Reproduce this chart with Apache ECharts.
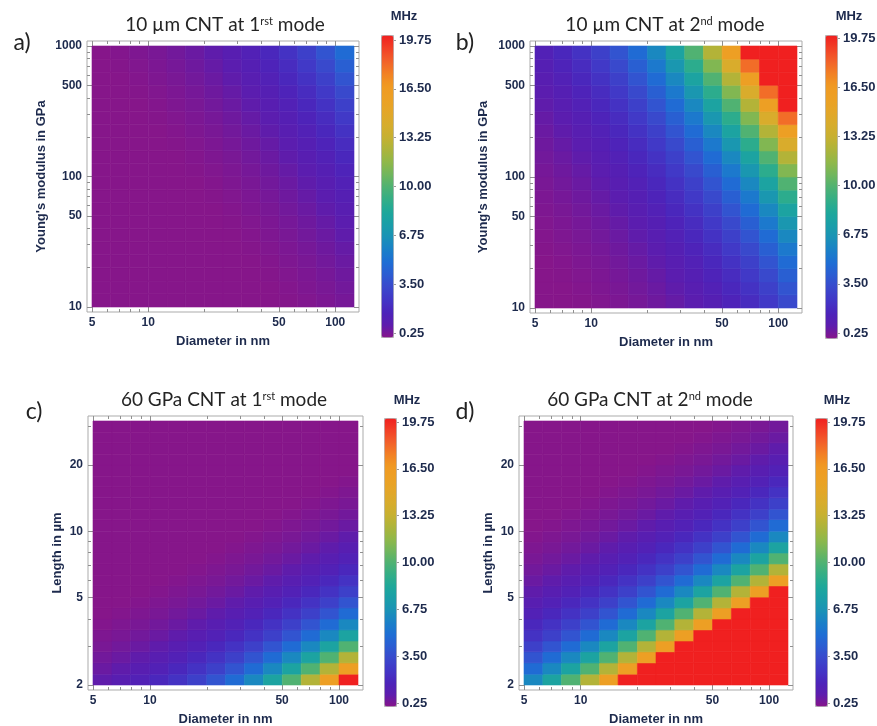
<!DOCTYPE html>
<html>
<head>
<meta charset="utf-8">
<title>CNT resonance frequency maps</title>
<script src="https://cdn.jsdelivr.net/npm/echarts@6.0.0/dist/echarts.min.js"></script>
<style>
  html, body { margin: 0; padding: 0; background: #fff; }
  #chart { width: 877px; height: 726px; }
</style>
</head>
<body>
<div id="chart"></div>
<script>
// cell edges
var diameterEdges = [5, 6.3, 7.9, 10, 12.6, 15.8, 20, 25.1, 31.6, 39.8, 50.1, 63.1, 79.4, 100, 126]
var modulusEdges = [10, 12.6, 15.8, 20, 25.1, 31.6, 39.8, 50.1, 63.1, 79.4, 100, 126, 158, 200, 251, 316, 398, 501, 631, 794, 1000]
var lengthEdges = [2, 2.24, 2.52, 2.83, 3.17, 3.56, 3.99, 4.48, 5.02, 5.64, 6.32, 7.1, 7.96, 8.93, 10.0, 11.3, 12.6, 14.2, 15.9, 17.8, 20.0, 22.4, 25.2, 28.2, 31.7]

// tick labels
var diameterTicks = [5, 10, 50, 100]
var diameterMinor = [6, 7, 8, 9, 20, 30, 40, 60, 70, 80, 90]
var modulusTicks = [10, 50, 100, 500, 1000]
var modulusMinor = [20, 30, 40, 60, 70, 80, 90, 200, 300, 400, 600, 700, 800, 900]
var lengthTicks = [2, 5, 10, 20]
var lengthMinor = [3, 4, 6, 7, 8, 9, 30]
var colorTicks = [0.25, 3.5, 6.75, 10, 13.25, 16.5, 19.75]

// frequency in MHz, rows from the lowest y value up, columns by diameter
var freq10umMode1 = [
  [0.028, 0.035, 0.045, 0.056, 0.071, 0.089, 0.112, 0.141, 0.178, 0.224, 0.282, 0.355, 0.447, 0.562],
  [0.032, 0.040, 0.050, 0.063, 0.079, 0.100, 0.126, 0.158, 0.200, 0.251, 0.316, 0.398, 0.501, 0.631],
  [0.035, 0.045, 0.056, 0.071, 0.089, 0.112, 0.141, 0.178, 0.224, 0.282, 0.355, 0.447, 0.562, 0.708],
  [0.040, 0.050, 0.063, 0.079, 0.100, 0.126, 0.158, 0.200, 0.251, 0.316, 0.398, 0.501, 0.631, 0.794],
  [0.045, 0.056, 0.071, 0.089, 0.112, 0.141, 0.178, 0.224, 0.282, 0.355, 0.447, 0.562, 0.708, 0.891],
  [0.050, 0.063, 0.079, 0.100, 0.126, 0.158, 0.200, 0.251, 0.316, 0.398, 0.501, 0.631, 0.794, 1.00],
  [0.056, 0.071, 0.089, 0.112, 0.141, 0.178, 0.224, 0.282, 0.355, 0.447, 0.562, 0.708, 0.891, 1.12],
  [0.063, 0.079, 0.100, 0.126, 0.158, 0.200, 0.251, 0.316, 0.398, 0.501, 0.631, 0.794, 1.00, 1.26],
  [0.071, 0.089, 0.112, 0.141, 0.178, 0.224, 0.282, 0.355, 0.447, 0.562, 0.708, 0.891, 1.12, 1.41],
  [0.079, 0.100, 0.126, 0.158, 0.200, 0.251, 0.316, 0.398, 0.501, 0.631, 0.794, 1.00, 1.26, 1.58],
  [0.089, 0.112, 0.141, 0.178, 0.224, 0.282, 0.355, 0.447, 0.562, 0.708, 0.891, 1.12, 1.41, 1.78],
  [0.100, 0.126, 0.158, 0.200, 0.251, 0.316, 0.398, 0.501, 0.631, 0.794, 1.00, 1.26, 1.58, 2.00],
  [0.112, 0.141, 0.178, 0.224, 0.282, 0.355, 0.447, 0.562, 0.708, 0.891, 1.12, 1.41, 1.78, 2.24],
  [0.126, 0.158, 0.200, 0.251, 0.316, 0.398, 0.501, 0.631, 0.794, 1.00, 1.26, 1.58, 2.00, 2.51],
  [0.141, 0.178, 0.224, 0.282, 0.355, 0.447, 0.562, 0.708, 0.891, 1.12, 1.41, 1.78, 2.24, 2.82],
  [0.158, 0.200, 0.251, 0.316, 0.398, 0.501, 0.631, 0.794, 1.00, 1.26, 1.58, 2.00, 2.51, 3.16],
  [0.178, 0.224, 0.282, 0.355, 0.447, 0.562, 0.708, 0.891, 1.12, 1.41, 1.78, 2.24, 2.82, 3.55],
  [0.200, 0.251, 0.316, 0.398, 0.501, 0.631, 0.794, 1.00, 1.26, 1.58, 2.00, 2.51, 3.16, 3.98],
  [0.224, 0.282, 0.355, 0.447, 0.562, 0.708, 0.891, 1.12, 1.41, 1.78, 2.24, 2.82, 3.55, 4.47],
  [0.251, 0.316, 0.398, 0.501, 0.631, 0.794, 1.00, 1.26, 1.58, 2.00, 2.51, 3.16, 3.98, 5.01]
]
var freq10umMode2 = [
  [0.178, 0.224, 0.282, 0.355, 0.447, 0.562, 0.708, 0.891, 1.12, 1.41, 1.78, 2.24, 2.82, 3.55],
  [0.200, 0.251, 0.316, 0.398, 0.501, 0.631, 0.794, 1.00, 1.26, 1.58, 2.00, 2.51, 3.16, 3.98],
  [0.224, 0.282, 0.355, 0.447, 0.562, 0.708, 0.891, 1.12, 1.41, 1.78, 2.24, 2.82, 3.55, 4.47],
  [0.251, 0.316, 0.398, 0.501, 0.631, 0.794, 1.00, 1.26, 1.58, 2.00, 2.51, 3.16, 3.98, 5.01],
  [0.282, 0.355, 0.447, 0.562, 0.708, 0.891, 1.12, 1.41, 1.78, 2.24, 2.82, 3.55, 4.47, 5.62],
  [0.316, 0.398, 0.501, 0.631, 0.794, 1.00, 1.26, 1.58, 2.00, 2.51, 3.16, 3.98, 5.01, 6.31],
  [0.355, 0.447, 0.562, 0.708, 0.891, 1.12, 1.41, 1.78, 2.24, 2.82, 3.55, 4.47, 5.62, 7.08],
  [0.398, 0.501, 0.631, 0.794, 1.00, 1.26, 1.58, 2.00, 2.51, 3.16, 3.98, 5.01, 6.31, 7.94],
  [0.447, 0.562, 0.708, 0.891, 1.12, 1.41, 1.78, 2.24, 2.82, 3.55, 4.47, 5.62, 7.08, 8.91],
  [0.501, 0.631, 0.794, 1.00, 1.26, 1.58, 2.00, 2.51, 3.16, 3.98, 5.01, 6.31, 7.94, 10.0],
  [0.562, 0.708, 0.891, 1.12, 1.41, 1.78, 2.24, 2.82, 3.55, 4.47, 5.62, 7.08, 8.91, 11.2],
  [0.631, 0.794, 1.00, 1.26, 1.58, 2.00, 2.51, 3.16, 3.98, 5.01, 6.31, 7.94, 10.0, 12.6],
  [0.708, 0.891, 1.12, 1.41, 1.78, 2.24, 2.82, 3.55, 4.47, 5.62, 7.08, 8.91, 11.2, 14.1],
  [0.794, 1.00, 1.26, 1.58, 2.00, 2.51, 3.16, 3.98, 5.01, 6.31, 7.94, 10.0, 12.6, 15.8],
  [0.891, 1.12, 1.41, 1.78, 2.24, 2.82, 3.55, 4.47, 5.62, 7.08, 8.91, 11.2, 14.1, 17.8],
  [1.00, 1.26, 1.58, 2.00, 2.51, 3.16, 3.98, 5.01, 6.31, 7.94, 10.0, 12.6, 15.8, 20.0],
  [1.12, 1.41, 1.78, 2.24, 2.82, 3.55, 4.47, 5.62, 7.08, 8.91, 11.2, 14.1, 17.8, 22.4],
  [1.26, 1.58, 2.00, 2.51, 3.16, 3.98, 5.01, 6.31, 7.94, 10.0, 12.6, 15.8, 20.0, 25.1],
  [1.41, 1.78, 2.24, 2.82, 3.55, 4.47, 5.62, 7.08, 8.91, 11.2, 14.1, 17.8, 22.4, 28.2],
  [1.58, 2.00, 2.51, 3.16, 3.98, 5.01, 6.31, 7.94, 10.0, 12.6, 15.8, 20.0, 25.1, 31.6]
]
var freq60GPaMode1 = [
  [1.00, 1.26, 1.58, 2.00, 2.51, 3.16, 3.98, 5.01, 6.31, 7.94, 10.0, 12.6, 15.8, 20.0],
  [0.794, 1.00, 1.26, 1.58, 2.00, 2.51, 3.16, 3.98, 5.01, 6.31, 7.94, 10.0, 12.6, 15.8],
  [0.631, 0.794, 1.00, 1.26, 1.58, 2.00, 2.51, 3.16, 3.98, 5.01, 6.31, 7.94, 10.0, 12.6],
  [0.501, 0.631, 0.794, 1.00, 1.26, 1.58, 2.00, 2.51, 3.16, 3.98, 5.01, 6.31, 7.94, 10.0],
  [0.398, 0.501, 0.631, 0.794, 1.00, 1.26, 1.58, 2.00, 2.51, 3.16, 3.98, 5.01, 6.31, 7.94],
  [0.316, 0.398, 0.501, 0.631, 0.794, 1.00, 1.26, 1.58, 2.00, 2.51, 3.16, 3.98, 5.01, 6.31],
  [0.251, 0.316, 0.398, 0.501, 0.631, 0.794, 1.00, 1.26, 1.58, 2.00, 2.51, 3.16, 3.98, 5.01],
  [0.200, 0.251, 0.316, 0.398, 0.501, 0.631, 0.794, 1.00, 1.26, 1.58, 2.00, 2.51, 3.16, 3.98],
  [0.158, 0.200, 0.251, 0.316, 0.398, 0.501, 0.631, 0.794, 1.00, 1.26, 1.58, 2.00, 2.51, 3.16],
  [0.126, 0.158, 0.200, 0.251, 0.316, 0.398, 0.501, 0.631, 0.794, 1.00, 1.26, 1.58, 2.00, 2.51],
  [0.100, 0.126, 0.158, 0.200, 0.251, 0.316, 0.398, 0.501, 0.631, 0.794, 1.00, 1.26, 1.58, 2.00],
  [0.079, 0.100, 0.126, 0.158, 0.200, 0.251, 0.316, 0.398, 0.501, 0.631, 0.794, 1.00, 1.26, 1.58],
  [0.063, 0.079, 0.100, 0.126, 0.158, 0.200, 0.251, 0.316, 0.398, 0.501, 0.631, 0.794, 1.00, 1.26],
  [0.050, 0.063, 0.079, 0.100, 0.126, 0.158, 0.200, 0.251, 0.316, 0.398, 0.501, 0.631, 0.794, 1.00],
  [0.040, 0.050, 0.063, 0.079, 0.100, 0.126, 0.158, 0.200, 0.251, 0.316, 0.398, 0.501, 0.631, 0.794],
  [0.032, 0.040, 0.050, 0.063, 0.079, 0.100, 0.126, 0.158, 0.200, 0.251, 0.316, 0.398, 0.501, 0.631],
  [0.025, 0.032, 0.040, 0.050, 0.063, 0.079, 0.100, 0.126, 0.158, 0.200, 0.251, 0.316, 0.398, 0.501],
  [0.020, 0.025, 0.032, 0.040, 0.050, 0.063, 0.079, 0.100, 0.126, 0.158, 0.200, 0.251, 0.316, 0.398],
  [0.016, 0.020, 0.025, 0.032, 0.040, 0.050, 0.063, 0.079, 0.100, 0.126, 0.158, 0.200, 0.251, 0.316],
  [0.013, 0.016, 0.020, 0.025, 0.032, 0.040, 0.050, 0.063, 0.079, 0.100, 0.126, 0.158, 0.200, 0.251],
  [0.010, 0.013, 0.016, 0.020, 0.025, 0.032, 0.040, 0.050, 0.063, 0.079, 0.100, 0.126, 0.158, 0.200],
  [0.008, 0.010, 0.013, 0.016, 0.020, 0.025, 0.032, 0.040, 0.050, 0.063, 0.079, 0.100, 0.126, 0.158],
  [0.006, 0.008, 0.010, 0.013, 0.016, 0.020, 0.025, 0.032, 0.040, 0.050, 0.063, 0.079, 0.100, 0.126],
  [0.005, 0.006, 0.008, 0.010, 0.013, 0.016, 0.020, 0.025, 0.032, 0.040, 0.050, 0.063, 0.079, 0.100]
]
var freq60GPaMode2 = [
  [6.31, 7.94, 10.0, 12.6, 15.8, 20.0, 25.1, 31.6, 39.8, 50.1, 63.1, 79.4, 100, 126],
  [5.01, 6.31, 7.94, 10.0, 12.6, 15.8, 20.0, 25.1, 31.6, 39.8, 50.1, 63.1, 79.4, 100],
  [3.98, 5.01, 6.31, 7.94, 10.0, 12.6, 15.8, 20.0, 25.1, 31.6, 39.8, 50.1, 63.1, 79.4],
  [3.16, 3.98, 5.01, 6.31, 7.94, 10.0, 12.6, 15.8, 20.0, 25.1, 31.6, 39.8, 50.1, 63.1],
  [2.51, 3.16, 3.98, 5.01, 6.31, 7.94, 10.0, 12.6, 15.8, 20.0, 25.1, 31.6, 39.8, 50.1],
  [2.00, 2.51, 3.16, 3.98, 5.01, 6.31, 7.94, 10.0, 12.6, 15.8, 20.0, 25.1, 31.6, 39.8],
  [1.58, 2.00, 2.51, 3.16, 3.98, 5.01, 6.31, 7.94, 10.0, 12.6, 15.8, 20.0, 25.1, 31.6],
  [1.26, 1.58, 2.00, 2.51, 3.16, 3.98, 5.01, 6.31, 7.94, 10.0, 12.6, 15.8, 20.0, 25.1],
  [1.00, 1.26, 1.58, 2.00, 2.51, 3.16, 3.98, 5.01, 6.31, 7.94, 10.0, 12.6, 15.8, 20.0],
  [0.794, 1.00, 1.26, 1.58, 2.00, 2.51, 3.16, 3.98, 5.01, 6.31, 7.94, 10.0, 12.6, 15.8],
  [0.631, 0.794, 1.00, 1.26, 1.58, 2.00, 2.51, 3.16, 3.98, 5.01, 6.31, 7.94, 10.0, 12.6],
  [0.501, 0.631, 0.794, 1.00, 1.26, 1.58, 2.00, 2.51, 3.16, 3.98, 5.01, 6.31, 7.94, 10.0],
  [0.398, 0.501, 0.631, 0.794, 1.00, 1.26, 1.58, 2.00, 2.51, 3.16, 3.98, 5.01, 6.31, 7.94],
  [0.316, 0.398, 0.501, 0.631, 0.794, 1.00, 1.26, 1.58, 2.00, 2.51, 3.16, 3.98, 5.01, 6.31],
  [0.251, 0.316, 0.398, 0.501, 0.631, 0.794, 1.00, 1.26, 1.58, 2.00, 2.51, 3.16, 3.98, 5.01],
  [0.200, 0.251, 0.316, 0.398, 0.501, 0.631, 0.794, 1.00, 1.26, 1.58, 2.00, 2.51, 3.16, 3.98],
  [0.158, 0.200, 0.251, 0.316, 0.398, 0.501, 0.631, 0.794, 1.00, 1.26, 1.58, 2.00, 2.51, 3.16],
  [0.126, 0.158, 0.200, 0.251, 0.316, 0.398, 0.501, 0.631, 0.794, 1.00, 1.26, 1.58, 2.00, 2.51],
  [0.100, 0.126, 0.158, 0.200, 0.251, 0.316, 0.398, 0.501, 0.631, 0.794, 1.00, 1.26, 1.58, 2.00],
  [0.079, 0.100, 0.126, 0.158, 0.200, 0.251, 0.316, 0.398, 0.501, 0.631, 0.794, 1.00, 1.26, 1.58],
  [0.063, 0.079, 0.100, 0.126, 0.158, 0.200, 0.251, 0.316, 0.398, 0.501, 0.631, 0.794, 1.00, 1.26],
  [0.050, 0.063, 0.079, 0.100, 0.126, 0.158, 0.200, 0.251, 0.316, 0.398, 0.501, 0.631, 0.794, 1.00],
  [0.040, 0.050, 0.063, 0.079, 0.100, 0.126, 0.158, 0.200, 0.251, 0.316, 0.398, 0.501, 0.631, 0.794],
  [0.032, 0.040, 0.050, 0.063, 0.079, 0.100, 0.126, 0.158, 0.200, 0.251, 0.316, 0.398, 0.501, 0.631]
]

// colour bar stops, evenly spaced from 0.25 to 19.75
var rainbow = ['#86168a', '#5c1cae', '#4c24ba', '#4236c6', '#3a48cc', '#2c5cd2', '#1e6ed4', '#1a80c8',
  '#1a92b6', '#1a9ea8', '#1ea89a', '#34ae86', '#50b272', '#72b65c', '#92b848', '#aeb43a', '#c8b030',
  '#d8ac2c', '#e4a628', '#eca024', '#f09a22', '#f28024', '#f2602a', '#f24026', '#f02020']
var ink = '#1d2a4d'
var labelFont = 'Liberation Sans'

var panels = [
  { frame: [87, 41, 272, 271], yEdges: modulusEdges, yTicks: modulusTicks, yMinor: modulusMinor,
    yName: "Young's modulus in GPa", yGap: 39, values: freq10umMode1,
    bar: [381, 35, 12, 302], barAxis: [40, 293], mhz: [404, 16],
    title: ['10 µm CNT at 1{sup|rst} mode', 225, 25], letter: ['a)', 22, 43] },
  { frame: [530, 41, 272, 272], yEdges: modulusEdges, yTicks: modulusTicks, yMinor: modulusMinor,
    yName: "Young's modulus in GPa", yGap: 40, values: freq10umMode2,
    bar: [825, 35, 12, 303], barAxis: [38, 295], mhz: [849, 16],
    title: ['10 µm CNT at 2{sup|nd} mode', 665, 25], letter: ['b)', 465, 43] },
  { frame: [88, 416, 275, 274], yEdges: lengthEdges, yTicks: lengthTicks, yMinor: lengthMinor,
    yName: 'Length in µm', yGap: 24, values: freq60GPaMode1,
    bar: [384, 418, 12, 288], barAxis: [422, 281], mhz: [407, 400],
    title: ['60 GPa CNT at 1{sup|rst} mode', 224, 400], letter: ['c)', 34, 412] },
  { frame: [519, 416, 274, 274], yEdges: lengthEdges, yTicks: lengthTicks, yMinor: lengthMinor,
    yName: 'Length in µm', yGap: 24, values: freq60GPaMode2,
    bar: [815, 418, 12, 288], barAxis: [422, 281], mhz: [837, 400],
    title: ['60 GPa CNT at 2{sup|nd} mode', 650, 400], letter: ['d)', 465, 412] }
]

// log10 extent of the edges, widened by the 5px white margin inside the frame
function extent(edges, pixels) {
  var lo = Math.log10(edges[0])
  var hi = Math.log10(edges[edges.length - 1])
  var pad = 5 * (hi - lo) / (pixels - 10)
  return [lo - pad, hi + pad]
}

function cells(xEdges, yEdges, rows) {
  var out = []
  for (var j = 0; j < rows.length; j++) {
    for (var i = 0; i < rows[j].length; i++) {
      var v = Math.min(Math.max(rows[j][i], 0.25), 19.75)
      out.push([Math.log10(xEdges[i]), Math.log10(xEdges[i + 1]),
        Math.log10(yEdges[j]), Math.log10(yEdges[j + 1]), v])
    }
  }
  return out
}

function renderCell(params, api) {
  var p0 = api.coord([api.value(0), api.value(2)])
  var p1 = api.coord([api.value(1), api.value(3)])
  var c = api.visual('color')
  return {
    type: 'rect',
    shape: { x: p0[0], y: p1[1], width: p1[0] - p0[0], height: p0[1] - p1[1] },
    style: { fill: c, stroke: c, lineWidth: 0.6 }
  }
}

function logAxis(grid, pos, range, ticks, opts) {
  var vals = ticks.map(function (t) { return Math.log10(t) })
  opts = opts || {}
  return {
    gridIndex: grid, type: 'value', position: pos, min: range[0], max: range[1],
    name: opts.name || '', nameLocation: 'middle', nameGap: opts.gap || 0,
    nameTextStyle: { fontFamily: labelFont, fontWeight: 'bold', fontSize: 13, color: ink },
    axisLine: { show: false },
    splitLine: { show: false },
    axisTick: { show: true, inside: true, length: opts.minor ? 3 : 5, customValues: vals,
      lineStyle: { color: '#8f8f8f', width: 1 } },
    axisLabel: { show: !!opts.labels, customValues: vals, margin: 5,
      formatter: function (v) { return String(Math.round(Math.pow(10, v))) },
      fontFamily: labelFont, fontWeight: 'bold', fontSize: 12, color: ink }
  }
}

var option = { animation: false, grid: [], xAxis: [], yAxis: [], series: [], visualMap: [], graphic: [] }

panels.forEach(function (p, k) {
  var g = option.grid.length
  var f = p.frame
  option.grid.push({ left: f[0], top: f[1], width: f[2], height: f[3], outerBoundsMode: 'none',
    show: true, borderColor: '#ababab', borderWidth: 1, backgroundColor: 'transparent' })
  option.grid.push({ left: f[0], top: f[1], width: f[2], height: f[3], outerBoundsMode: 'none' })
  option.grid.push({ left: p.bar[0] + p.bar[2] - 1, top: p.barAxis[0], width: 1, height: p.barAxis[1],
    outerBoundsMode: 'none' })

  var xr = extent(diameterEdges, f[2])
  var yr = extent(p.yEdges, f[3])
  var xi = option.xAxis.length
  var yi = option.yAxis.length

  option.xAxis.push(logAxis(g, 'bottom', xr, diameterTicks, { labels: true, name: 'Diameter in nm', gap: 23 }))
  option.xAxis.push(logAxis(g, 'top', xr, diameterTicks))
  option.xAxis.push(logAxis(g + 1, 'bottom', xr, diameterMinor, { minor: true }))
  option.xAxis.push(logAxis(g + 1, 'top', xr, diameterMinor, { minor: true }))
  option.xAxis.push({ gridIndex: g + 2, type: 'value', show: false })

  option.yAxis.push(logAxis(g, 'left', yr, p.yTicks, { labels: true, name: p.yName, gap: p.yGap }))
  option.yAxis.push(logAxis(g, 'right', yr, p.yTicks))
  option.yAxis.push(logAxis(g + 1, 'left', yr, p.yMinor, { minor: true }))
  option.yAxis.push(logAxis(g + 1, 'right', yr, p.yMinor, { minor: true }))
  option.yAxis.push({
    gridIndex: g + 2, type: 'value', position: 'right', min: 0.25, max: 19.75,
    axisLine: { show: false }, splitLine: { show: false },
    axisTick: { show: true, length: 4, customValues: colorTicks, lineStyle: { color: '#9a9a9a' } },
    axisLabel: { customValues: colorTicks, margin: 6, formatter: function (v) { return v.toFixed(2) },
      fontFamily: labelFont, fontWeight: 'bold', fontSize: 13, color: ink }
  })

  option.series.push({
    type: 'custom', xAxisIndex: xi, yAxisIndex: yi, silent: true,
    encode: { x: [0, 1], y: [2, 3] },
    data: cells(diameterEdges, p.yEdges, p.values),
    renderItem: renderCell
  })

  option.visualMap.push({
    type: 'continuous', seriesIndex: k, dimension: 4, min: 0.25, max: 19.75,
    calculable: false, hoverLink: false, showLabel: false, text: null,
    left: p.bar[0], top: p.bar[1], itemWidth: p.bar[2], itemHeight: p.bar[3], padding: 0,
    borderColor: '#b4b4b4', borderWidth: 1,
    inRange: { color: rainbow }
  })

  option.graphic.push({
    type: 'text', x: p.title[1], y: p.title[2], silent: true,
    style: { text: p.title[0], fontFamily: 'Lato', fontSize: 19, fill: '#242424',
      align: 'center', verticalAlign: 'middle',
      rich: { sup: { fontFamily: 'Lato', fontSize: 11, fill: '#242424', verticalAlign: 'top', lineHeight: 12 } } }
  })
  option.graphic.push({
    type: 'text', x: p.letter[1], y: p.letter[2], silent: true,
    style: { text: p.letter[0], fontFamily: 'Lato', fontSize: 23, fill: '#222',
      align: 'center', verticalAlign: 'middle' }
  })
  option.graphic.push({
    type: 'text', x: p.mhz[0], y: p.mhz[1], silent: true,
    style: { text: 'MHz', fontFamily: labelFont, fontWeight: 'bold', fontSize: 13, fill: ink,
      align: 'center', verticalAlign: 'middle' }
  })
})

var chart = echarts.init(document.getElementById('chart'), null, { renderer: 'canvas' })
chart.setOption(option)
</script>
</body>
</html>
